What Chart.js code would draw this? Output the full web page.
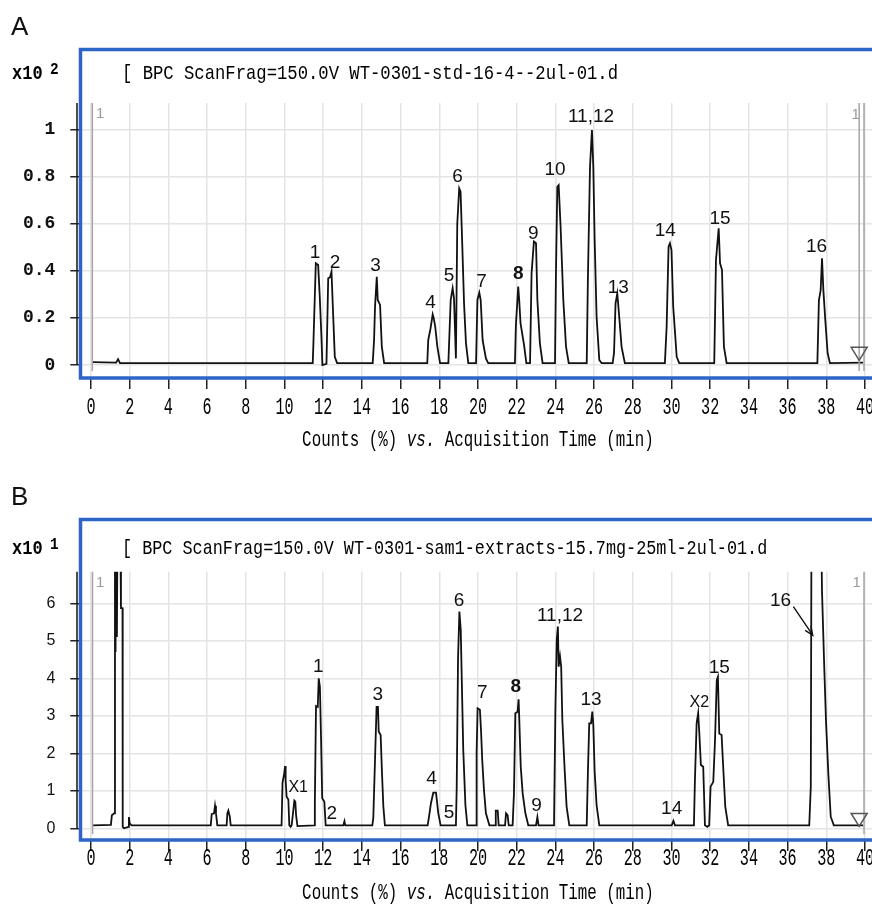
<!DOCTYPE html>
<html>
<head>
<meta charset="utf-8">
<script src="https://cdn.jsdelivr.net/npm/chart.js@4.4.1/dist/chart.umd.min.js"></script>
<style>
  html, body { margin: 0; padding: 0; background: #fff; }
  body { width: 872px; height: 913px; overflow: hidden; position: relative; }
  .panel { position: absolute; left: 0; }
  .panel canvas { display: block; }
  #wrapA { top: 0; }
  #wrapB { top: 460px; }
</style>
</head>
<body>
<div class="panel" id="wrapA"><canvas id="chartA" width="910" height="460"></canvas></div>
<div class="panel" id="wrapB"><canvas id="chartB" width="910" height="453"></canvas></div>
<script>
// ===== data =====

// x axis (min)
const xTicks = [0, 2, 4, 6, 8, 10, 12, 14, 16, 18, 20, 22, 24, 26, 28, 30, 32, 34, 36, 38, 40];
const axisTitleParts = [['Counts (%) ', ''], ['vs.', 'italic '], [' Acquisition Time (min)', '']];

// panel A : standards (x10^2)
const yTicksA = [0, 0.2, 0.4, 0.6, 0.8, 1];
const yLabelsA = ['0', '0.2', '0.4', '0.6', '0.8', '1'];
const headerA = '[ BPC ScanFrag=150.0V WT-0301-std-16-4--2ul-01.d';

const timeA = [
  0.05, 1.3, 1.4, 1.5,
  11.46, 11.49, 11.57, 11.62, 11.74, 11.82, 11.91, 11.96, 12.17, 12.26, 12.35, 12.43, 12.52, 12.6, 12.72,
  14.56, 14.63, 14.68, 14.77, 14.82, 14.94, 15.03, 15.15,
  17.38, 17.43, 17.55, 17.66, 17.71, 17.79, 17.9, 18.04,
  18.47, 18.59, 18.69, 18.76, 18.86, 18.93, 19.03, 19.1, 19.17, 19.28, 19.38, 19.5,
  19.9, 19.97, 20.07, 20.14, 20.24, 20.41, 20.53,
  21.91, 21.96, 22.08, 22.13, 22.2, 22.38, 22.5,
  22.69, 22.77, 22.89, 23.0, 23.07, 23.2, 23.34,
  23.98, 24.03, 24.1, 24.17, 24.27, 24.41, 24.55, 24.69,
  25.62, 25.68, 25.79, 25.89, 25.96, 26.03, 26.13, 26.27, 26.39,
  26.96, 27.03, 27.11, 27.2, 27.3, 27.42, 27.59,
  29.66, 29.75, 29.85, 29.92, 30.0, 30.09, 30.27, 30.4,
  32.21, 32.3, 32.44, 32.51, 32.61, 32.71, 32.85,
  37.54, 37.62, 37.71, 37.78, 37.85, 37.95, 38.07, 38.19,
  39.9
];
const countsA = [
  0.012, 0.01, 0.025, 0.008,
  0.008, 0.078, 0.297, 0.432, 0.425, 0.297, 0.12, 0.0, 0.005, 0.368, 0.372, 0.396, 0.205, 0.035, 0.008,
  0.008, 0.106, 0.248, 0.375, 0.276, 0.255, 0.078, 0.008,
  0.008, 0.106, 0.156, 0.215, 0.2, 0.163, 0.078, 0.008,
  0.008, 0.276, 0.326, 0.283, 0.028, 0.6, 0.75, 0.736, 0.559, 0.262, 0.092, 0.008,
  0.008, 0.276, 0.307, 0.276, 0.106, 0.028, 0.008,
  0.008, 0.17, 0.333, 0.276, 0.177, 0.085, 0.008,
  0.008, 0.389, 0.524, 0.517, 0.276, 0.092, 0.008,
  0.008, 0.389, 0.757, 0.764, 0.587, 0.276, 0.078, 0.008,
  0.008, 0.361, 0.842, 0.998, 0.842, 0.531, 0.205, 0.021, 0.008,
  0.008, 0.05, 0.262, 0.304, 0.205, 0.078, 0.008,
  0.008, 0.163, 0.502, 0.517, 0.488, 0.248, 0.035, 0.008,
  0.008, 0.446, 0.58, 0.432, 0.404, 0.078, 0.008,
  0.008, 0.276, 0.318, 0.453, 0.318, 0.19, 0.05, 0.008,
  0.01
];

const peakNamesA = ['1', '2', '3', '4', '5', '6', '7', '8', '9', '10', '11,12', '13', '14', '15', '16'];
const peakTimeA = [11.58, 12.61, 14.71, 17.55, 18.5, 18.95, 20.19, 22.08, 22.86, 23.98, 25.84, 27.25, 29.68, 32.51, 37.5];
const peakHeightA = [0.477, 0.436, 0.422, 0.266, 0.379, 0.8, 0.354, 0.389, 0.559, 0.828, 1.054, 0.326, 0.569, 0.623, 0.502];

const markerTimeA = [0.07, 39.7, 39.95];
const markerTagTimeA = [0.47, 39.52];
const markerTagValueA = [1.066, 1.062];

// panel B : sample extract (x10^1)
const yTicksB = [0, 1, 2, 3, 4, 5, 6];
const yLabelsB = ['0', '1', '2', '3', '4', '5', '6'];
const headerB = '[ BPC ScanFrag=150.0V WT-0301-sam1-extracts-15.7mg-25ml-2ul-01.d';

const timeB = [
  0.1, 1.03, 1.08, 1.2, 1.24, 1.27, 1.3, 1.34, 1.38, 1.5, 1.55, 1.63, 1.64, 1.71, 1.93, 1.96, 2.0, 2.1,
  6.19, 6.24, 6.36, 6.41, 6.46, 6.53,
  7.01, 7.05, 7.1, 7.18, 7.22,
  9.85, 9.9, 9.99, 10.03, 10.06, 10.11, 10.2, 10.25, 10.32,
  10.37, 10.43, 10.51, 10.56, 10.6, 10.67,
  11.54, 11.57, 11.63, 11.72, 11.77, 11.83, 11.89, 11.95, 12.06, 12.13,
  13.04, 13.1, 13.14,
  14.54, 14.59, 14.68, 14.76, 14.83, 14.87, 14.97, 15.04, 15.11, 15.19,
  17.4, 17.47, 17.57, 17.69, 17.83, 17.95, 18.07,
  18.86, 18.9, 18.97, 19.04, 19.11, 19.17, 19.24, 19.35, 19.45,
  19.9, 19.93, 19.98, 20.1, 20.16, 20.22, 20.31, 20.41, 20.59,
  20.88, 20.92, 21.02, 21.07,
  21.4, 21.45, 21.53, 21.59,
  21.79, 21.86, 21.93, 22.05, 22.1, 22.13, 22.21, 22.31, 22.45, 22.6,
  23.0, 23.07, 23.13,
  23.93, 24.0, 24.07, 24.13, 24.17, 24.24, 24.3, 24.36, 24.48, 24.58, 24.72,
  25.62, 25.68, 25.75, 25.84, 25.91, 25.96, 26.03, 26.13, 26.27,
  30.01, 30.1, 30.18,
  31.16, 31.21, 31.3, 31.38, 31.44, 31.52, 31.64, 31.73, 31.85,
  31.95, 32.02, 32.16, 32.25, 32.34, 32.4, 32.47, 32.59, 32.68, 32.78, 32.93,
  37.12, 37.2, 37.24, 37.71, 37.78, 37.9, 37.99, 38.11, 38.23, 38.39,
  39.9
];
const countsB = [
  0.08, 0.09, 0.35, 0.4, 9, 4.7, 9, 5.1, 9, 9, 5.87, 5.87, 0.04, 0.0, 0.04, 0.3, 0.13, 0.08,
  0.08, 0.38, 0.4, 0.6, 0.4, 0.08,
  0.08, 0.4, 0.47, 0.3, 0.08,
  0.08, 1.22, 1.47, 1.66, 1.29, 0.84, 0.77, 0.08, 0.04,
  0.08, 0.35, 0.74, 0.71, 0.35, 0.06,
  0.08, 0.68, 3.26, 3.24, 4.0, 3.78, 2.4, 0.8, 0.71, 0.08,
  0.08, 0.19, 0.08,
  0.08, 0.27, 1.84, 3.24, 3.24, 2.58, 2.49, 1.47, 0.58, 0.08,
  0.08, 0.31, 0.67, 0.95, 0.95, 0.4, 0.08,
  0.08, 1.07, 4.53, 5.78, 5.29, 3.78, 2.09, 0.62, 0.08,
  0.08, 2.02, 3.2, 3.16, 2.58, 1.82, 1.02, 0.4, 0.08,
  0.08, 0.47, 0.47, 0.08,
  0.08, 0.4, 0.35, 0.08,
  0.08, 0.93, 3.07, 3.11, 3.44, 2.98, 1.64, 0.93, 0.4, 0.08,
  0.08, 0.3, 0.08,
  0.08, 3.15, 5.02, 5.38, 4.31, 4.58, 4.31, 2.89, 1.56, 0.58, 0.08,
  0.08, 1.47, 2.8, 2.8, 3.11, 2.76, 1.51, 0.62, 0.08,
  0.08, 0.2, 0.08,
  0.08, 1.24, 2.8, 3.07, 2.53, 1.69, 1.64, 0.08, 0.04,
  0.08, 1.11, 1.24, 2.35, 3.95, 4.04, 2.53, 2.49, 1.56, 0.58, 0.08,
  0.08, 1.11, 9, 9, 6.31, 4.22, 2.8, 1.42, 0.31, 0.08,
  0.08
];

const peakNamesB = ['X1', '1', '2', '3', '4', '5', '6', '7', '8', '9', '11,12', '13', '14', 'X2', '15', '16'];
const peakTimeB = [10.71, 11.75, 12.44, 14.82, 17.6, 18.5, 19.02, 20.22, 21.96, 23.03, 24.24, 25.84, 30.01, 31.44, 32.47, 35.64];
const peakHeightB = [1.08, 4.31, 0.38, 3.55, 1.31, 0.42, 6.07, 3.62, 3.78, 0.59, 5.66, 3.42, 0.53, 3.35, 4.27, 6.07];

const markerTimeB = [0.08, 39.95];
const markerTagTimeB = [0.47, 39.57];
const markerTagValueB = [6.54, 6.54];

// leader line for peak 16 in B: [time, value] from -> to
const arrowFromB = [36.3, 5.91];
const arrowToB = [37.3, 5.15];

// ===== helpers =====

function condText(ctx, str, x, y, font, sx, align) {
  ctx.save();
  ctx.font = font;
  ctx.textBaseline = 'middle';
  ctx.textAlign = 'left';
  const w = ctx.measureText(str).width * sx;
  const x0 = align === 'center' ? x - w / 2 : (align === 'right' ? x - w : x);
  ctx.translate(x0, y);
  ctx.scale(sx, 1);
  ctx.fillText(str, 0, 0);
  ctx.restore();
  return w;
}

const MONO = "'Liberation Mono', 'DejaVu Sans Mono', monospace";
const SANS = "'Liberation Sans', Arial, sans-serif";

// 크로마토그램 장식: 프레임, 표지, 라벨
const chromPlugin = {
  id: 'chrom',
  afterDraw(chart, args, p) {
    const { ctx, chartArea: a, scales: { x, y } } = chart;
    const y0 = y.getPixelForValue(0);
    ctx.save();

    // black y axis line
    ctx.strokeStyle = '#222';
    ctx.lineWidth = 1.6;
    ctx.beginPath();
    ctx.moveTo(a.left - 4.3, a.top);
    ctx.lineTo(a.left - 4.3, y0);
    ctx.stroke();

    // marker lines + tags
    ctx.strokeStyle = '#a4a4a4';
    ctx.lineWidth = 1.5;
    p.markers.forEach(t => {
      const px = x.getPixelForValue(t);
      ctx.beginPath();
      ctx.moveTo(px, a.top);
      ctx.lineTo(px, y0 + 6);
      ctx.stroke();
    });
    ctx.fillStyle = '#9a9a9a';
    ctx.font = '15px ' + SANS;
    ctx.textAlign = 'center';
    ctx.textBaseline = 'middle';
    p.tagT.forEach((t, i) => ctx.fillText('1', x.getPixelForValue(t), y.getPixelForValue(p.tagV[i])));

    // end triangle
    const tx = x.getPixelForValue(39.7), ty = y.getPixelForValue(p.triV);
    ctx.strokeStyle = '#555';
    ctx.lineWidth = 1.5;
    ctx.beginPath();
    ctx.moveTo(tx - 8, ty - 13);
    ctx.lineTo(tx + 8, ty - 13);
    ctx.lineTo(tx, ty);
    ctx.closePath();
    ctx.stroke();

    // blue frame
    ctx.strokeStyle = '#2d65c6';
    ctx.lineWidth = 3.5;
    ctx.strokeRect(a.left - 0.8, p.frameTop, 2000, a.bottom + 1 - p.frameTop);

    // header
    ctx.fillStyle = '#000';
    condText(ctx, p.header, 122, p.headerY, '21px ' + MONO, p.headerSx, 'left');

    // exponent
    condText(ctx, 'x10', 12, p.headerY + 1, 'bold 20px ' + MONO, 0.85, 'left');
    condText(ctx, p.expo, 50, p.headerY - 3, 'bold 16px ' + MONO, 0.9, 'left');

    // panel letter
    ctx.fillStyle = '#111';
    ctx.font = '26px ' + SANS;
    ctx.textAlign = 'left';
    ctx.textBaseline = 'middle';
    ctx.fillText(p.letter, 11, p.letterY);

    // peak labels
    ctx.textAlign = 'center';
    p.names.forEach((n, i) => {
      const size = n.charAt(0) === 'X' ? 16 : 19;
      ctx.font = (n === '8' ? 'bold ' : '') + size + 'px ' + SANS;
      ctx.fillText(n, x.getPixelForValue(p.peakT[i]), y.getPixelForValue(p.peakV[i]));
    });

    // leader arrow
    if (p.arrowFrom) {
      const x1 = x.getPixelForValue(p.arrowFrom[0]), y1 = y.getPixelForValue(p.arrowFrom[1]);
      const x2 = x.getPixelForValue(p.arrowTo[0]), y2 = y.getPixelForValue(p.arrowTo[1]);
      const ang = Math.atan2(y2 - y1, x2 - x1);
      ctx.strokeStyle = '#111';
      ctx.lineWidth = 1.4;
      ctx.beginPath();
      ctx.moveTo(x1, y1);
      ctx.lineTo(x2, y2);
      ctx.moveTo(x2 - 9 * Math.cos(ang - 0.4), y2 - 9 * Math.sin(ang - 0.4));
      ctx.lineTo(x2, y2);
      ctx.lineTo(x2 - 9 * Math.cos(ang + 0.4), y2 - 9 * Math.sin(ang + 0.4));
      ctx.stroke();
    }

    // x tick labels
    ctx.fillStyle = '#000';
    xTicks.forEach(v => condText(ctx, String(v), x.getPixelForValue(v), p.tickY, '24px ' + MONO, 0.63, 'center'));

    // x axis title
    const fonts = axisTitleParts.map(part => part[1] + '22px ' + MONO);
    let total = 0;
    axisTitleParts.forEach((part, i) => { ctx.font = fonts[i]; total += ctx.measureText(part[0]).width * 0.72; });
    let cx = (x.getPixelForValue(0) + x.getPixelForValue(40)) / 2 - total / 2;
    axisTitleParts.forEach((part, i) => { cx += condText(ctx, part[0], cx, p.titleY, fonts[i], 0.72, 'left'); });

    ctx.restore();
  }
};

function makeChart(id, p) {
  const points = p.time.map((t, i) => ({ x: t, y: p.counts[i] }));
  return new Chart(document.getElementById(id), {
    type: 'line',
    data: {
      datasets: [{
        data: points,
        borderColor: '#111',
        borderWidth: 1.8,
        pointRadius: 0,
        tension: 0,
        fill: false
      }]
    },
    options: {
      responsive: false,
      animation: false,
      events: [],
      layout: { padding: { top: p.padTop, right: 16, left: 0, bottom: 0 } },
      plugins: { legend: { display: false }, tooltip: { enabled: false }, chrom: p },
      scales: {
        x: {
          type: 'linear',
          min: -0.5,
          max: 41.5,
          afterBuildTicks: s => { s.ticks = xTicks.map(v => ({ value: v })); },
          afterFit: s => { s.height = p.axisH; },
          ticks: { display: false },
          border: { display: false },
          grid: { color: '#e4e4e4', lineWidth: 1.5, tickColor: '#222', tickWidth: 1.5, tickLength: 12 }
        },
        y: {
          min: p.yMin,
          max: p.yMax,
          afterBuildTicks: s => { s.ticks = p.yTicks.map(v => ({ value: v })); },
          afterFit: s => { s.width = 81.3; },
          ticks: {
            padding: 15,
            color: '#111',
            font: p.yFont,
            callback: (v, i) => p.yLabels[i]
          },
          border: { display: false },
          grid: { color: '#e4e4e4', lineWidth: 1.5, tickColor: '#222', tickWidth: 1.5, tickLength: 11 }
        }
      }
    },
    plugins: [chromPlugin]
  });
}

makeChart('chartA', {
  time: timeA, counts: countsA,
  yMin: -0.051, yMax: 1.1125, yTicks: yTicksA, yLabels: yLabelsA,
  yFont: { family: MONO, size: 18, weight: 'bold' },
  padTop: 103, axisH: 83, frameTop: 49.5,
  header: headerA, headerY: 73, headerSx: 0.82, expo: '2',
  letter: 'A', letterY: 28,
  names: peakNamesA, peakT: peakTimeA, peakV: peakHeightA,
  markers: markerTimeA, tagT: markerTagTimeA, tagV: markerTagValueA, triV: 0.02,
  tickY: 408, titleY: 440
});

makeChart('chartB', {
  time: timeB, counts: countsB,
  yMin: -0.285, yMax: 6.843, yTicks: yTicksB, yLabels: yLabelsB,
  yFont: { family: SANS, size: 16 },
  padTop: 111.7, axisH: 74, frameTop: 59.5,
  header: headerB, headerY: 88, headerSx: 0.8, expo: '1',
  letter: 'B', letterY: 37.5,
  names: peakNamesB, peakT: peakTimeB, peakV: peakHeightB,
  markers: markerTimeB, tagT: markerTagTimeB, tagV: markerTagValueB, triV: 0.05,
  arrowFrom: arrowFromB, arrowTo: arrowToB,
  tickY: 399, titleY: 433
});
</script>
</body>
</html>
